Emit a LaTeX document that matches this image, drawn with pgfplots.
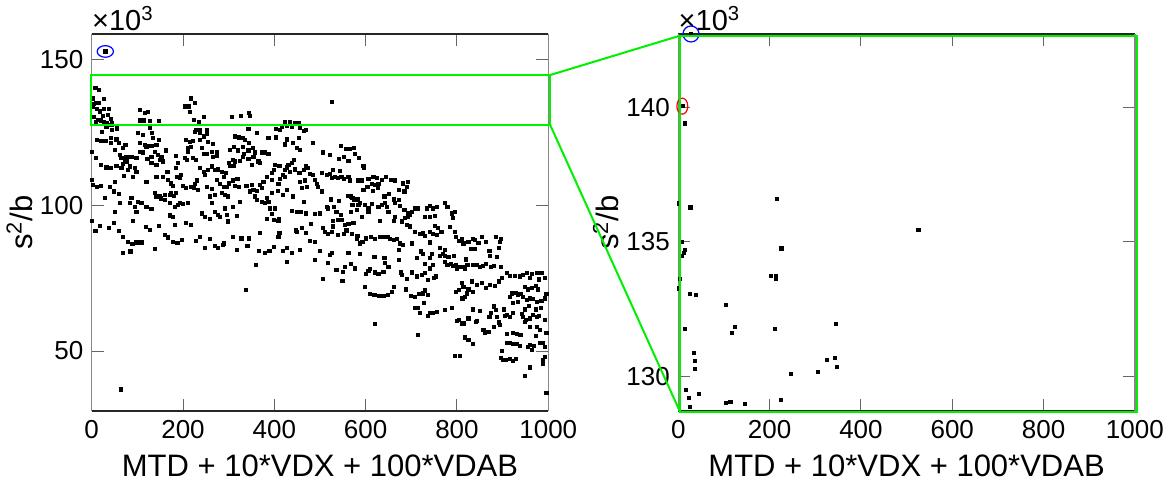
\documentclass[border=0pt]{standalone}
\usepackage{fontspec}
\setmainfont{Liberation Sans}
\usepackage{pgfplots}
\pgfplotsset{compat=1.18}

\definecolor{zoomgreen}{RGB}{0,240,0}
\definecolor{axdark}{RGB}{38,38,38}
\definecolor{axgray}{RGB}{135,135,135}

\pgfplotsset{
  panel/.style={
    scale only axis, width=228.3pt, height=188.5pt,
    xmin=0, xmax=1000, xtick={0,200,...,1000},
    clip=false,
    separate axis lines,
    x axis line style={draw=axdark, line width=0.6pt},
    y axis line style={draw=axgray, line width=0.6pt},
    major tick length=6pt,
    tick style={draw=black!60, line width=0.5pt},
    tick label style={font=\fontsize{13}{15}\selectfont},
    xticklabel style={yshift=-1pt},
    yticklabel style={xshift=-0.7pt},
    label style={font=\fontsize{15.5}{18}\selectfont},
    /pgf/number format/assume math mode=true,
    /pgf/number format/1000 sep={},
    xlabel={MTD + 10*VDX + 100*VDAB},
    ylabel={s\textsuperscript{2}/b},
    x label style={at={(axis description cs:0.5,-0.175)}, anchor=base},
    y label style={at={(axis description cs:-0.1307,0.5)}, anchor=base},
  },
  pts/.style={only marks, mark=square*, mark size=0.8pt, black},
}
\tikzset{
  expo/.style={anchor=south west, inner sep=0pt, yshift=1.2pt,
    font=\fontsize{14.5}{16}\selectfont},
}

\begin{document}
\begin{tikzpicture}
\path[use as bounding box] (-45.85pt,-39.5pt) rectangle (540.65pt,205.5pt);

% ---------- full range ----------
\begin{axis}[panel, at={(0pt,0pt)}, anchor=south west,
  ymin=29.4, ymax=158.9, ytick={50,100,150}]
\addplot[pts] coordinates {
(29.8,152.9) (64,36.8)
(8,140.3) (16,139.7) (3,136.8) (27,136.5) (10,135.3) (4,134.8) (16,135.1) (1.4,134.0) (12,133.2) (26,133.2)
(38,133.2) (17.5,132.3) (36,131.1) (5,130.5) (25,130.8) (14,129.4) (20,129.2) (27,128.8) (10,128.5) (32,128.2)
(41.5,129.6) (45,128.2) (105,132.8) (116,131.9) (123,132.0) (105,129.2) (114.5,129.2) (127,129.0) (147,129.0)
(217,136.8) (225.5,135.1) (203.6,134.0) (213,134.0) (214.6,132.0) (224,129.4) (235,128.5)
(22.6,125.4) (43,127.7) (45,126.0) (56,126.5) (32,127.1) (11.6,122.5) (21,122.3) (30,122.3) (41.5,123.1) (41.5,121.6)
(54,122.7) (59,121.6) (101.4,125.0) (112.4,124.2) (132,124.8) (127,126.8) (134,123.1) (147.4,122.5) (105,121.4) (116,120.8)
(123,120.5) (120,120.0) (130.6,120.5) (141.6,120.8) (73.7,120.8) (68.6,119.7) (50,119.1) (0.7,118.5) (61,117.4) (65,116.2)
(72,115.6) (76,116.8) (87,116.6) (98,116.2) (105,118.5) (112,118.2) (122,115.9) (130.6,116.8) (138,118.5) (145,117.4)
(152.5,116.8) (162,118.9) (149,115.6) (141.6,113.9) (130.6,114.5) (156,115.1) (185,117.0) (189,114.5) (185,112.8) (203.6,116.2)
(209,115.6) (222,116.2) (229,115.6) (211,119.7) (218,120.0) (207,122.5) (214.6,121.9) (222,122.3) (229,126.0) (225.5,125.4)
(236.5,124.8) (211,118.5) (9.4,116.2) (21,113.9) (32,113.1) (41,112.8) (54,113.6) (65,112.8) (68.6,114.3) (76,115.1)
(79.5,112.2) (83,113.4) (94,112.8) (98,111.6) (71,110.2) (90.5,109.9) (120,108.2) (141.6,109.9) (156,109.7) (166,111.6)
(167,108.8) (174,107.6) (178,106.7) (187.5,109.9) (196,110.5) (193,109.4) (1,108.8) (3,107.1) (11.6,106.5) (21,106.7)
(39.4,106.5) (50,108.2) (28.4,102.7) (49,104.8) (60,103.9) (87,102.7) (101,101.3) (109,101.0) (83,100.8) (94,99.6)
(98,97.9) (61,101.0) (50,97.9) (120,99.4) (130.6,98.8) (138,104.2) (141.6,103.1) (149,103.3) (151,102.4) (160,103.6)
(171,103.6) (174,104.2) (180,103.3) (185,104.4) (160,101.9) (171,100.8) (189,100.2) (182,99.6) (193,101.0) (200,100.5)
(211,101.0) (218,106.5) (225.5,107.4) (231,108.6) (224,105.9) (233,105.3) (207,105.9) (200,106.7) (171,96.6) (178,96.0)
(183,93.3) (90.5,94.7) (1,94.7) (8,91.3) (17.5,93.0) (37,92.4) (49,93.9) (59,91.3) (68.6,89.3) (79.5,87.6)
(89,86.7) (98,87.3) (109,87.3) (118,92.7) (127,91.6) (147,93.1) (160,89.9) (167,89.0) (178,87.6) (187.5,87.1)
(198,88.2) (207,93.9) (218,93.3) (228,87.8) (236.5,89.3) (68.6,83.6) (84.6,84.2) (138,85.0)
(246,130.3) (307,130.3) (327,130.9) (345,131.9) (347,130.8)
(416,127.1) (423,128.5) (428,127.3) (434,128.5) (438,127.1) (445,128.2) (454,128.2) (456,126.8) (465,125.6) (469,126.0) (412,126.0) (404,126.2)
(237,126.0) (253,126.0) (253,124.6) (245,123.7) (237,122.5) (255,121.9) (266,121.1) (241,119.7) (246,117.6) (252,117.6) (263,118.5) (274,118.2) (265,116.6) (274,117.0)
(314,123.7) (323,123.4) (332,123.3) (336,122.5) (343,126.2) (361,125.0) (345,121.6) (387,123.3) (404,123.4) (428,122.7) (453,123.3) (423,121.0) (440,121.4) (449,119.7) (456,119.1) (484,121.4)
(303,119.1) (312,120.0) (321,118.9) (331,120.0) (334,117.7) (332,116.8) (343,118.9) (353,119.7) (358,118.2) (354,116.8) (365,115.1) (372,118.2) (380,118.2) (387,117.7) (369,114.5) (350,113.9) (343,115.9) (325,115.4) (314,115.1) (309,115.6) (303,113.6) (312,113.6) (301,114.7)
(263,113.4) (237,112.8) (245,111.6) (248,110.5) (255,112.2) (270,112.2) (277,112.4) (285,111.6) (290,109.9) (294,111.1) (274,108.8) (281,107.4) (290,106.5) (296,106.5) (252,106.5) (263,105.6) (270,103.6) (285,104.2) (292,103.6) (299,103.1) (259,103.1) (263,100.8)
(301,107.6) (310,108.6) (319,109.0) (314,106.7) (323,106.5) (339,106.7) (350,107.1) (354,105.3) (347,104.8) (361,105.1) (372,105.9) (376,108.2) (369,107.1) (394,108.8) (383,109.7) (394,111.1) (399,112.2) (401,113.9) (411,113.6) (418,110.5) (423,112.2) (428,113.1) (438,114.7) (431,113.9) (442,115.6) (434,111.6) (445,112.4) (455,111.1) (465,112.2) (469,113.4) (474,112.8) (478,110.8) (485,110.5) (489,108.8) (493,107.4) (496,106.5) (467,108.6) (456,108.2) (460,105.9) (471,106.5)
(412,109.0) (423,109.7) (409,107.4) (407,105.1) (418,103.6) (428,105.3) (440,103.1) (464,101.3) (394,104.2) (383,102.5) (387,101.3) (372,101.3) (361,101.9) (358,103.1) (380,100.8) (391,99.0) (401,99.0) (394,97.1) (383,95.3) (399,95.0) (409,94.8) (410,95.3)
(325,101.3) (310,99.6) (292,99.0) (270,97.9) (277,96.8) (281,96.2) (296,96.8) (299,94.5) (318,96.4) (259,95.3) (248,96.2) (241,97.3)
(438,98.2) (449,97.9) (458,97.9) (469,97.3) (489,97.1) (499,97.3) (480,93.7) (460,92.2) (469,90.5) (447,91.4) (449,90.8) (478,87.8) (489,87.6) (411,90.7) (409,89.3) (369,90.5) (345,88.7) (328,88.7) (309,89.1) (258,88.4) (237,89.3)
(248,85.3) (270,86.2) (277,85.3) (287,86.5) (290,87.0) (318,84.7) (341,86.2) (367,84.5) (380,83.6) (389,84.5) (399,85.9) (418,84.4) (428,85.3) (438,83.8) (456,84.7) (499,84.5) (489,81.3) (428,80.7) (359,79.5) (338,71.0)
(525.5,135.7) (546,120.5) (556,119.3) (566,119.3) (575,119.7) (507,118.2) (522,117.4) (542,115.9) (553,116.8) (562,115.4)
(577,117.7) (585,116.2) (595,113.6) (597,112.8) (529,112.2) (544,112.0) (504,111.3) (515,110.5) (522,110.8) (525.5,109.4)
(533,109.9) (539,109.4) (547,109.7) (553,109.0) (562,109.9) (566,108.6) (584,108.6) (591,108.6) (606,109.0) (617,109.7)
(624,109.4) (635,108.8) (644,109.7) (655,108.8) (664,108.6) (613,107.4) (604,106.5) (620,107.1) (628,107.4) (595,105.3)
(615,105.1) (626,105.9) (682,107.6) (693,108.2) (690,106.3) (685,104.8) (672,105.3) (651,104.0) (641,103.1) (504,104.8)
(562,103.3) (571,102.5) (575,101.9) (582,102.1) (588,101.0) (599,100.2) (613,100.5) (628,99.6) (606,99.0) (606,97.9)
(635,100.2) (642,100.8) (646,99.6) (650,97.9) (661,102.1) (672,101.9) (664,101.0) (675,99.9) (685,98.5) (692,97.3)
(697,96.8) (701,97.9) (708,99.0) (715,99.0) (734,99.0) (741,99.9) (730,96.2) (741,96.2) (748,99.0) (686,95.6)
(693,96.2) (664,96.2) (661,94.8) (631,94.8) (680,94.5) (690,93.3) (697,92.8) (708,91.0) (719,90.2) (726,90.4)
(730,89.5) (741,91.0) (748,90.2) (741,87.3) (515,99.4) (518,99.0) (524,102.1) (542,101.7) (531,99.6) (536,97.9)
(546,96.8) (568,103.1) (571,100.2) (568,97.9) (584,100.2) (580,98.5) (591,96.2) (573,94.1) (562,93.7) (555,93.3)
(547,95.0) (539,95.0) (529,94.8) (529,92.8) (507,92.2) (511,91.0) (518,90.2) (525.5,91.0) (539,89.9) (553,90.2)
(558,91.4) (569,90.2) (582,89.5) (580,88.4) (588,87.0) (593,87.6) (600,88.7) (612,89.1) (620,88.4) (631,89.3)
(639,89.1) (648,89.1) (653,88.4) (661,88.2) (668,88.4) (675,87.0) (682,86.5) (672,84.7) (701,87.0) (721,84.2)
(726,83.4) (745,83.4) (741,81.9) (712,81.9) (748,79.6) (730,79.9) (741,78.4) (750,75.0) (737,74.4) (642,80.4)
(641,81.9) (650,78.8) (619,82.2) (639,77.3) (672,81.3) (677,77.0) (680,76.1) (690,74.7) (701,77.0) (712,75.6)
(723,76.1) (730,76.7) (620,77.0) (628,76.5) (606,77.6) (600,76.5) (609,78.1) (588,83.4) (562,83.8) (555,79.0)
(568,79.9) (577,78.4) (525.5,83.8) (522,83.0) (518,80.4) (536,77.9) (551,77.3) (507,74.7) (549,74.2) (599,71.9)
(609,69.6) (619,69.3) (629,68.9) (639,68.9) (648,69.3) (658,70.4) (661,72.1) (688,71.2) (699,68.9) (708,68.5)
(717,69.6) (726,69.8) (730,70.8) (737,69.3) (728,66.6) (715,64.9) (708,64.9) (719,63.2) (741,63.2) (748,63.2)
(737,62.1) (620,59.3) (714,55.5)
(756,99.4) (752,96.4) (774,101.0) (779,99.6) (788,97.3) (796,97.9) (791,95.6) (752,93.0) (759,92.2) (766,91.0)
(756,89.9) (785,92.5) (796,91.0) (798,89.1) (805,87.9) (810,88.4) (814,87.0) (825,87.6) (834,88.4) (839,88.2)
(847,87.2) (854,89.1) (864,87.6) (885,89.1) (896,88.4) (894,87.6) (830,85.0) (839,85.0) (871,84.5) (891,85.3)
(887,82.2) (872,82.7) (763,85.3) (774,84.7) (769,83.3) (763,82.7) (774,82.7) (781,82.2) (793,82.7) (774,80.7)
(779,79.6) (786,79.9) (792,79.2) (798,79.6) (807,79.0) (814,78.8) (820,81.5) (823,79.6) (834,79.6) (843,79.6)
(850,78.8) (856,79.2) (864,79.9) (874,79.0) (880,79.2) (896,78.8) (818,78.1) (799,78.1) (754,75.6) (810,73.3)
(814,72.1) (805,71.0) (798,70.4) (821,69.8) (834,70.4) (825,71.2) (818,68.7) (812,68.1) (832,73.9) (843,72.7)
(854,73.5) (864,71.6) (872,72.7) (883,72.4) (891,73.9) (898,75.0) (909,76.7) (916,75.8) (927,75.8) (937,75.6)
(945,76.1) (953,76.9) (964,76.5) (975,76.7) (985,76.7) (993,75.0) (980,74.6) (960,75.0) (973,72.4) (978,71.2)
(964,71.6) (956,71.2) (949,71.9) (939,69.6) (934,69.3) (929,70.1) (920,69.8) (916,68.7) (923,66.4) (934,67.0)
(945,68.7) (953,67.5) (960,68.1) (967,67.8) (975,67.0) (985,67.3) (993,68.1) (996,69.6) (983,64.7) (973,64.3)
(958,65.5) (949,64.3) (942,62.7) (944,61.8) (951,60.7) (949,60.1) (960,61.2) (967,62.4) (975,61.6) (980,62.0)
(993,60.7) (923,63.0) (916,61.8) (909,62.4) (905,62.0) (902,64.3) (885,64.1) (880,65.3) (874,63.0) (871,61.8)
(887,61.8) (891,59.8) (894,59.0) (880,58.4) (869,56.7) (861,56.3) (858,57.2) (850,63.9) (834,64.3) (843,60.4)
(842,60.1) (825,61.2) (814,59.5) (805,60.7) (799,60.4) (810,59.3) (788,64.7) (774,64.1) (756,63.5) (960,58.4)
(975,58.4) (982,57.2) (996,56.1) (973,55.2) (982,52.9) (989,52.7) (993,51.5) (960,52.1) (956,51.5) (931,55.9)
(939,55.5) (923,56.1) (909,55.9) (898,50.1) (909,52.9) (915,52.7) (923,52.4) (931,52.4) (938,51.7) (929,47.2)
(922,46.7) (916,47.2) (907,46.9) (900,46.9) (896,47.5) (993,48.1) (989,45.6) (960,44.4) (949,41.4) (964,50.4)
(969,51.7) (989,46.9) (818,54.7) (825,53.8) (834,52.4) (796,48.3) (807,48.3) (996,35.7)
};
\addplot[only marks, mark=o, mark size=2.9pt, blue,
  mark options={xscale=1.4, line width=0.6pt}] coordinates {(29.8,152.9)};
\node[expo] at (rel axis cs:0,1) {×10\textsuperscript{3}};
\coordinate (zlo) at (axis cs:-2,127.7);
\coordinate (zhi) at (axis cs:1004,144.8);
\end{axis}

% ---------- zoomed band ----------
\begin{axis}[panel, at={(293.3pt,0pt)}, anchor=south west,
  ymin=128.7, ymax=142.75, ytick={130,135,140}]
\addplot[pts] coordinates {
(8.8,140.06) (14.7,139.42) (216,136.6) (1.5,136.44) (26.3,136.29) (7.4,135.0) (14.7,134.70) (12.5,134.58)
(7.4,134.49) (226,134.76) (203,133.73) (214.6,133.73) (214.6,133.62) (3.7,133.62) (1.5,133.27) (25,133.06)
(38,133.02) (105,132.64) (14,131.76) (123.5,131.84) (117.6,131.62) (212.4,131.76) (345,131.94) (33.7,130.86)
(35.9,130.58) (35.9,130.27) (326,130.61) (343,130.68) (346.8,130.33) (246.8,130.08) (305,130.17) (16.9,129.50)
(45.3,129.35) (23.4,129.19) (104.5,129.0) (113.9,129.03) (146,128.96) (224,129.12) (25,128.84) (526,135.45)
(27.8,142.75)
};
\addplot[only marks, mark=o, mark size=4pt, blue,
  mark options={line width=0.6pt}] coordinates {(27.8,142.75)};
\addplot[only marks, mark=o, mark size=4pt, red,
  mark options={xscale=0.68, line width=0.6pt}] coordinates {(8.8,140.06)};
\node[expo] at (rel axis cs:0,1) {×10\textsuperscript{3}};
\coordinate (rlo) at ([shift={(0.85pt,-0.35pt)}]rel axis cs:0,0);
\coordinate (rhi) at ([shift={(0.85pt,-0.85pt)}]rel axis cs:1,1);
\end{axis}

% zoom indicator
\draw[zoomgreen, line width=1pt] (zlo) rectangle (zhi);
\draw[zoomgreen, line width=1pt] (zhi) -- (rlo |- rhi);
\draw[zoomgreen, line width=1pt] (zhi |- zlo) -- (rlo);
\draw[zoomgreen, line width=1pt] (rlo) rectangle (rhi);
\end{tikzpicture}
\end{document}
